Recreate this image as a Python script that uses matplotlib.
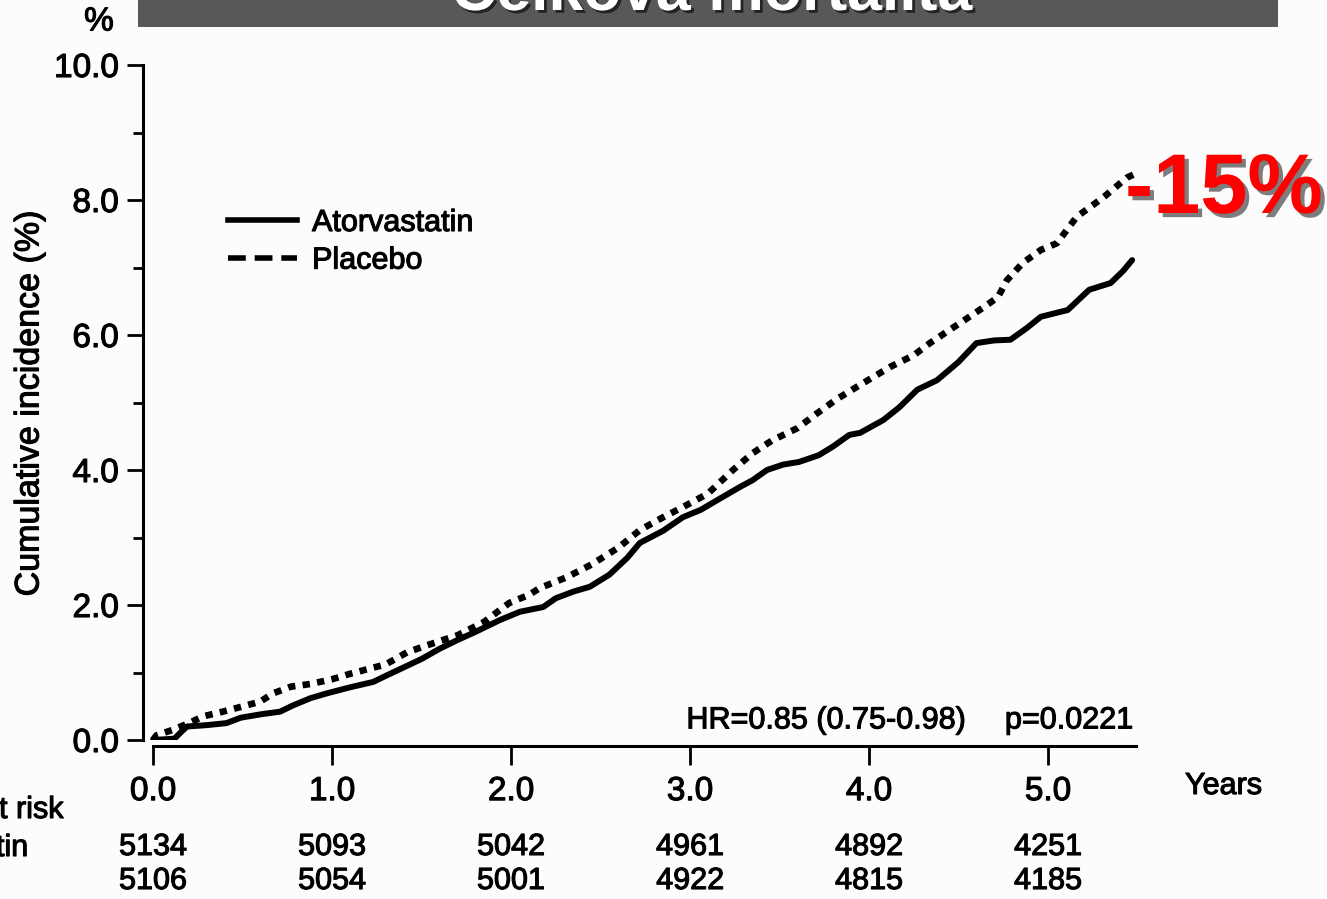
import matplotlib
matplotlib.use("Agg")
import matplotlib.pyplot as plt
import matplotlib.patheffects as pe
from matplotlib.lines import Line2D
from matplotlib.patches import Rectangle
from matplotlib.transforms import blended_transform_factory

plt.rcParams["font.family"] = ["Liberation Sans", "DejaVu Sans"]

# (roky, kumulativní incidence v %)
ator_t = [0.00, 0.12, 0.15, 0.19, 0.30, 0.41, 0.49, 0.60, 0.71, 0.78, 0.88, 0.97,
          1.10, 1.23, 1.30, 1.38, 1.50, 1.60, 1.70, 1.80, 1.94, 2.05, 2.18, 2.25,
          2.35, 2.44, 2.55, 2.65, 2.72, 2.85, 2.96, 3.06, 3.15, 3.28, 3.35, 3.43,
          3.52, 3.61, 3.72, 3.80, 3.89, 3.95, 4.08, 4.17, 4.27, 4.38, 4.50, 4.60,
          4.70, 4.79, 4.88, 4.96, 5.05, 5.11, 5.23, 5.35, 5.42, 5.47]
ator_y = [0.00, 0.02, 0.10, 0.20, 0.22, 0.25, 0.33, 0.38, 0.42, 0.51, 0.62, 0.69,
          0.78, 0.86, 0.95, 1.05, 1.20, 1.35, 1.48, 1.60, 1.78, 1.90, 1.97, 2.10,
          2.20, 2.27, 2.45, 2.70, 2.92, 3.10, 3.30, 3.41, 3.55, 3.75, 3.85, 4.00,
          4.08, 4.12, 4.22, 4.35, 4.52, 4.55, 4.74, 4.93, 5.19, 5.33, 5.60, 5.88,
          5.92, 5.93, 6.10, 6.27, 6.33, 6.37, 6.67, 6.77, 6.95, 7.11]

plac_t = [0.00, 0.02, 0.11, 0.20, 0.28, 0.39, 0.49, 0.60, 0.67, 0.77, 0.88, 1.00,
          1.10, 1.20, 1.30, 1.42, 1.55, 1.70, 1.85, 1.99, 2.10, 2.16, 2.31, 2.45,
          2.60, 2.72, 2.85, 2.96, 3.10, 3.24, 3.35, 3.46, 3.60, 3.71, 3.82, 3.95,
          4.12, 4.25, 4.34, 4.51, 4.64, 4.72, 4.77, 4.86, 4.96, 5.05, 5.16, 5.31,
          5.44, 5.48]
plac_y = [0.00, 0.07, 0.15, 0.25, 0.35, 0.42, 0.49, 0.57, 0.69, 0.79, 0.83, 0.90,
          0.98, 1.05, 1.12, 1.30, 1.42, 1.55, 1.75, 2.03, 2.15, 2.25, 2.41, 2.60,
          2.85, 3.11, 3.30, 3.45, 3.65, 4.00, 4.25, 4.44, 4.62, 4.84, 5.05, 5.26,
          5.53, 5.70, 5.88, 6.18, 6.41, 6.56, 6.81, 7.07, 7.26, 7.36, 7.75, 8.04,
          8.33, 8.38]

risk_years = [0, 1, 2, 3, 4, 5]
risk_ator = [5134, 5093, 5042, 4961, 4892, 4251]
risk_plac = [5106, 5054, 5001, 4922, 4815, 4185]

y_ticks = [0, 2, 4, 6, 8, 10]
x_ticks = [0, 1, 2, 3, 4, 5]

W, H = 1327, 899
ink = [pe.withStroke(linewidth=0.8, foreground="black")]  # naskenovaný text je tučnější

fig = plt.figure(figsize=(W / 100, H / 100), dpi=100, facecolor="#fcfcfd")
ax = fig.add_axes([143 / W, 1 - 740 / H, (1140 - 143) / W, 675 / H])
ax.set_facecolor("none")

ax.plot(ator_t, ator_y, color="black", lw=4.3, solid_joinstyle="round", solid_capstyle="round")
ax.plot(plac_t, plac_y, color="black", lw=4.8, linestyle=(0, (1.1, 1.1)))

ax.set_xlim(-10 / 179, (1140 - 153) / 179)
ax.set_ylim(0, 10)
for s in ("top", "right"):
    ax.spines[s].set_visible(False)
ax.spines["left"].set_linewidth(2.2)
ax.spines["bottom"].set_linewidth(2.2)
ax.spines["left"].set_bounds(0, 10)
ax.spines["bottom"].set_position(("outward", 4))
ax.spines["bottom"].set_bounds(0, 5.49)

ax.set_yticks(y_ticks, [f"{v:.1f}" for v in y_ticks])
ax.set_yticks([1, 3, 5, 7, 9], minor=True)
ax.set_xticks(x_ticks, [f"{v:.1f}" for v in x_ticks])
ax.tick_params(axis="y", which="major", length=11.5, width=2, pad=6, labelsize=24)
ax.tick_params(axis="y", which="minor", length=7, width=2)
ax.tick_params(axis="x", which="major", length=14, width=2, pad=8, labelsize=24)
for lab in ax.get_xticklabels() + ax.get_yticklabels():
    lab.set_path_effects(ink)

fig.text(30 / W, 1 - 403 / H, "Cumulative incidence (%)", rotation=90,
         ha="center", va="center", fontsize=24.5, path_effects=ink)
fig.text(99 / W, 1 - 22 / H, "%", ha="center", va="center", fontsize=24, path_effects=ink)
fig.text(1185 / W, 1 - 786 / H, "Years", ha="left", va="center", fontsize=22, path_effects=ink)

ax.text(2.98, 0.29, "HR=0.85 (0.75-0.98)", ha="left", va="center", fontsize=22, path_effects=ink)
ax.text(5.475, 0.29, "p=0.0221", ha="right", va="center", fontsize=22, path_effects=ink)

handles = [Line2D([], [], color="black", lw=4),
           Line2D([], [], color="black", lw=4, linestyle=(0, (3.2, 1.6)))]
leg = ax.legend(handles, ["Atorvastatin", "Placebo"], loc="upper left",
                bbox_to_anchor=(228 / W, 1 - 208 / H), bbox_transform=fig.transFigure,
                frameon=False, fontsize=22, handlelength=2.25, handletextpad=0.5,
                labelspacing=0.25, borderpad=0, borderaxespad=0)
for t in leg.get_texts():
    t.set_path_effects(ink)

# number at risk
tr = blended_transform_factory(ax.transData, fig.transFigure)
for yr, a, p in zip(risk_years, risk_ator, risk_plac):
    ax.text(yr, 1 - 847 / H, str(a), transform=tr, ha="center", va="center",
            fontsize=22, path_effects=ink)
    ax.text(yr, 1 - 881 / H, str(p), transform=tr, ha="center", va="center",
            fontsize=22, path_effects=ink)
fig.text(63 / W, 1 - 810 / H, "Number at risk", ha="right", va="center", fontsize=22, path_effects=ink)
fig.text(28 / W, 1 - 848 / H, "Atorvastatin", ha="right", va="center", fontsize=22, path_effects=ink)

# šedý pruh s nadpisem (oříznutý nahoře)
fig.patches.append(Rectangle((138 / W, 1 - 27 / H), (1278 - 138) / W, 28 / H,
                             transform=fig.transFigure, facecolor="#585858",
                             edgecolor="none", zorder=0))
fig.text(712 / W, 1 - 10 / H, "Celková mortalita", ha="center", va="baseline",
         fontsize=45, fontweight="bold", color="white",
         path_effects=[pe.withSimplePatchShadow(offset=(2, -2), shadow_rgbFace="black", alpha=0.6)])

fig.text(1125 / W, 1 - 213 / H, "-15%", ha="left", va="baseline", fontsize=61,
         fontweight="bold", color="#ff0000",
         path_effects=[pe.withSimplePatchShadow(offset=(3, -3), shadow_rgbFace="black", alpha=0.5)])

fig.savefig("out.png", dpi=100, facecolor=fig.get_facecolor())
